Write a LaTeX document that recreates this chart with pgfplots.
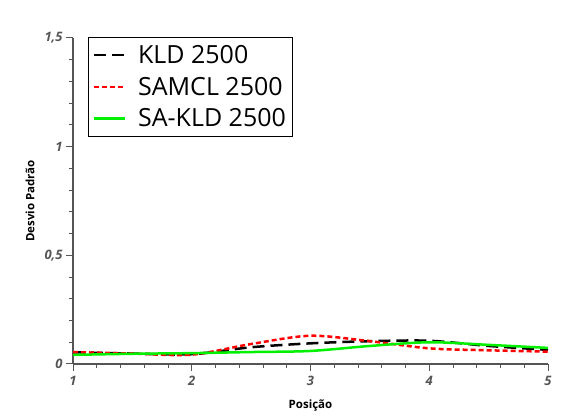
\documentclass[border=0pt]{standalone}
\usepackage{fontspec}
\setmainfont{Open Sans}
\usepackage{pgfplots}
\pgfplotsset{compat=1.18}
\definecolor{axgray}{HTML}{555555}
\definecolor{lgreen}{HTML}{00F000}
\begin{document}
\begin{tikzpicture}[x=1pt,y=1pt]
\useasboundingbox (0,0) rectangle (561,419);
\begin{axis}[
  at={(73pt,55pt)}, anchor=origin,
  scale only axis, width=475pt, height=326pt,
  xmin=1, xmax=5, ymin=0, ymax=1.5,
  axis x line=bottom, axis y line=left,
  axis line style={axgray, line width=1.2pt, -},
  every tick/.style={axgray, line width=1pt},
  tick align=outside,
  major tick length=7pt, minor tick length=4pt,
  xtick={1,2,3,4,5}, ytick={0,0.5,1,1.5},
  minor x tick num=4, minor y tick num=4,
  /pgf/number format/use comma,
  /pgf/number format/assume math mode=true,
  ticklabel style={font=\fontsize{13}{15}\selectfont\bfseries\itshape, text=axgray},
  xticklabel style={yshift=-2pt},
  xlabel={Posição}, ylabel={Desvio Padrão},
  label style={font=\fontsize{11.5}{13}\selectfont\bfseries},
  xlabel style={at={(0.5,0)}, anchor=center, yshift=-42pt},
  ylabel style={at={(0,0.5)}, anchor=center, yshift=43pt},
  legend style={at={(0.032,1.003)}, anchor=north west, draw=black, line width=0.8pt,
    font=\fontsize{25}{30}\selectfont, inner xsep=4pt, inner ysep=6pt, row sep=8pt},
  legend cell align=left,
  legend image post style={line width=2.5pt},
  legend image code/.code={\draw[#1] (0pt,0pt) -- (31pt,0pt); \path (0pt,0pt) (41pt,0pt);},
  clip=false,
]
\addplot[black, line width=2.5pt, dash pattern=on 12pt off 6pt, smooth, tension=0.5] coordinates {
 (1,0.054) (1.5,0.048) (2,0.045) (2.5,0.077) (3,0.095) (3.5,0.105) (4,0.107) (4.5,0.083) (5,0.065)};
\addlegendentry{KLD 2500}
\addplot[red, line width=2.5pt, dash pattern=on 5pt off 3pt, smooth, tension=0.5] coordinates {
 (1,0.055) (1.5,0.048) (2,0.043) (2.5,0.092) (3,0.13) (3.5,0.105) (4,0.072) (4.5,0.063) (5,0.057)};
\addlegendentry{SAMCL 2500}
\addplot[lgreen, line width=2.5pt, smooth, tension=0.5] coordinates {
 (1,0.042) (1.5,0.047) (2,0.05) (2.5,0.055) (3,0.06) (3.5,0.083) (4,0.10) (4.5,0.088) (5,0.074)};
\addlegendentry{SA-KLD 2500}
\end{axis}
\end{tikzpicture}
\end{document}
